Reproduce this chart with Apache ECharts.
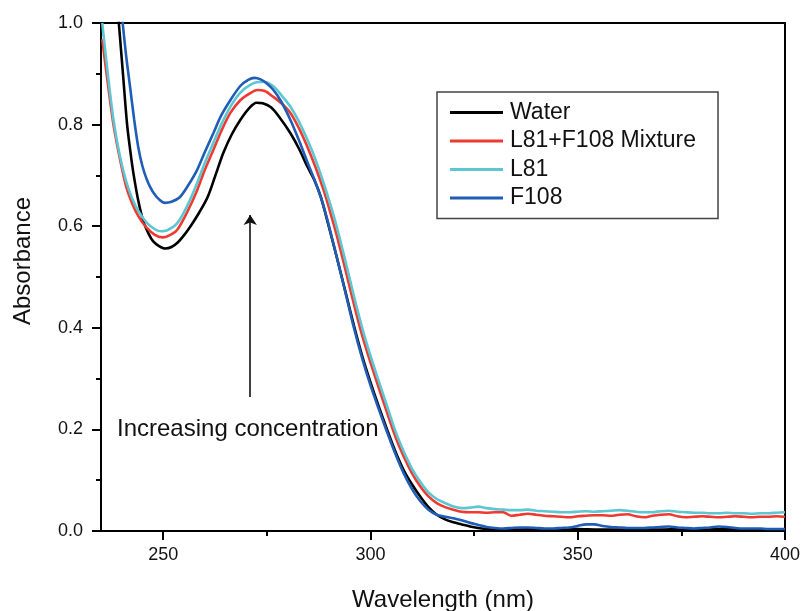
<!DOCTYPE html>
<html><head><meta charset="utf-8">
<script src="https://cdn.jsdelivr.net/npm/echarts@6/dist/echarts.min.js"></script>
<style>html,body{margin:0;padding:0;background:#fff}#c{width:802px;height:611px}</style>
</head><body><div id="c"></div>
<script>
const seriesNames = ['Water', 'L81+F108 Mixture', 'L81', 'F108'];
const xTicks = [250, 300, 350, 400];
const xMinorTicks = [275, 325, 375];
const waterData = [[239.2,1.01],[240.3,0.9],[241.3,0.8],[242.2,0.74],[242.9,0.7],[244,0.65],[245.2,0.61],[246.5,0.585],[247.6,0.57],[249,0.561],[250.5,0.556],[252,0.559],[253.5,0.568],[255,0.582],[256.6,0.6],[258.7,0.627],[260.7,0.657],[262.6,0.7],[264.5,0.744],[266.5,0.78],[268.6,0.809],[270.7,0.832],[272.5,0.843],[274,0.842],[276,0.834],[278,0.815],[280.7,0.783],[282.8,0.752],[284.8,0.717],[286.5,0.69],[288,0.658],[290,0.598],[292,0.535],[294,0.47],[296,0.405],[298,0.345],[300,0.293],[302,0.245],[304,0.2],[306,0.157],[308,0.12],[310,0.092],[312,0.068],[314,0.047],[316,0.032],[318,0.023],[320,0.017],[322,0.013],[324,0.009],[326,0.006],[328,0.004],[330,0.004],[335,0.003],[340,0.004],[345,0.003],[350,0.004],[355,0.003],[360,0.003],[365,0.004],[370,0.003],[375,0.004],[380,0.003],[385,0.004],[390,0.003],[395,0.003],[400,0.003]];
const mixtureData = [[235.3,0.968],[236.5,0.89],[238,0.8],[239.5,0.735],[241,0.68],[242.5,0.645],[244,0.62],[246,0.597],[248,0.583],[249.8,0.578],[251.5,0.582],[253.4,0.593],[255.8,0.628],[258.2,0.671],[260,0.71],[262.1,0.75],[264,0.787],[266.2,0.823],[268.6,0.848],[271,0.862],[272.7,0.868],[274.5,0.866],[276.5,0.855],[278.5,0.842],[280.7,0.823],[282.8,0.792],[284.8,0.756],[286.8,0.715],[288.7,0.671],[290.5,0.622],[292,0.578],[294,0.513],[296,0.447],[298,0.385],[300,0.332],[302,0.282],[304,0.233],[306,0.186],[308,0.147],[310,0.114],[312,0.088],[314,0.068],[316,0.055],[318,0.047],[320,0.042],[322,0.038],[324,0.037],[326,0.037],[328,0.036],[330,0.037],[332,0.037],[334,0.03],[336,0.032],[338,0.034],[340,0.032],[342,0.03],[344,0.029],[346,0.028],[348,0.027],[350,0.029],[352,0.03],[354,0.031],[356,0.031],[358,0.03],[360,0.032],[362,0.033],[364,0.029],[366,0.027],[368,0.03],[370,0.032],[372,0.033],[374,0.029],[376,0.027],[378,0.028],[380,0.029],[382,0.028],[384,0.027],[386,0.028],[388,0.029],[390,0.028],[392,0.027],[394,0.028],[396,0.028],[398,0.029],[400,0.028]];
const l81Data = [[235.3,1.0],[236.5,0.91],[238,0.81],[239.5,0.74],[241,0.69],[242.5,0.655],[244,0.63],[246,0.607],[248,0.594],[249.5,0.59],[251,0.592],[253.4,0.606],[255.8,0.64],[258.2,0.685],[260,0.724],[262.1,0.764],[264,0.8],[266.2,0.835],[268.5,0.862],[271,0.878],[273,0.884],[274.5,0.884],[276.5,0.876],[278.5,0.858],[280.7,0.835],[282.8,0.805],[284.8,0.77],[286.8,0.73],[288.7,0.685],[290.5,0.638],[292,0.595],[294,0.53],[296,0.463],[298,0.4],[300,0.345],[302,0.295],[304,0.246],[306,0.197],[308,0.157],[310,0.123],[312,0.097],[314,0.076],[316,0.063],[318,0.055],[320,0.048],[322,0.045],[324,0.046],[326,0.048],[328,0.045],[330,0.043],[332,0.042],[334,0.041],[336,0.041],[338,0.042],[340,0.04],[342,0.039],[344,0.038],[346,0.037],[348,0.037],[350,0.038],[352,0.039],[354,0.038],[356,0.039],[358,0.04],[360,0.041],[362,0.04],[364,0.038],[366,0.037],[368,0.037],[370,0.039],[372,0.04],[374,0.038],[376,0.037],[378,0.036],[380,0.036],[382,0.035],[384,0.035],[386,0.036],[388,0.035],[390,0.035],[392,0.034],[394,0.035],[396,0.035],[398,0.036],[400,0.037]];
const f108Data = [[240.1,1.01],[241,0.94],[242,0.875],[243,0.81],[244,0.755],[245,0.718],[246,0.693],[247,0.675],[248,0.662],[249,0.653],[250.4,0.646],[252,0.648],[254,0.657],[256,0.68],[258.2,0.711],[260,0.745],[262.1,0.783],[264,0.818],[266.2,0.848],[268.6,0.876],[270.5,0.888],[272,0.892],[273.5,0.889],[275,0.881],[276.6,0.868],[278.5,0.845],[280.7,0.809],[282.8,0.768],[284.8,0.726],[286.8,0.685],[288.5,0.645],[290,0.6],[292,0.535],[294,0.468],[296,0.4],[298,0.34],[300,0.287],[302,0.24],[304,0.195],[306,0.152],[308,0.114],[310,0.083],[312,0.059],[314,0.042],[316,0.032],[318,0.028],[320,0.025],[322,0.021],[324,0.016],[326,0.012],[328,0.008],[330,0.006],[332,0.005],[334,0.006],[336,0.007],[338,0.007],[340,0.006],[342,0.005],[344,0.005],[346,0.006],[348,0.007],[350,0.01],[352,0.013],[354,0.013],[356,0.01],[358,0.008],[360,0.007],[362,0.006],[364,0.006],[366,0.006],[368,0.007],[370,0.008],[372,0.009],[374,0.007],[376,0.006],[378,0.005],[380,0.006],[382,0.007],[384,0.009],[386,0.008],[388,0.006],[390,0.005],[392,0.005],[394,0.005],[396,0.004],[398,0.004],[400,0.004]];
const arrowX = 271;
const arrowFrom = 0.264;
const arrowTo = 0.622;
const annotationText = 'Increasing concentration';
const annotationPos = [270.4, 0.2];

const FONT = 'Arial, "Liberation Sans", sans-serif';
const colors = ['#000000', '#EE3A30', '#5CC6D2', '#1F5DB6'];
const datasets = [waterData, mixtureData, l81Data, f108Data];

const chart = echarts.init(document.getElementById('c'), null, {renderer: 'canvas'});
const series = seriesNames.map((n, i) => ({
  name: n, type: 'line', data: datasets[i], showSymbol: false, symbol: 'none',
  smooth: 0.3, clip: true, xAxisIndex: 0, yAxisIndex: 0,
  lineStyle: {color: colors[i], width: 2.6}, itemStyle: {color: colors[i]},
  z: 2 + i,
  markLine: i === 0 ? {
    silent: true, symbol: ['none', 'arrow'], symbolSize: 10,
    lineStyle: {color: '#111', width: 1.6, type: 'solid'},
    itemStyle: {color: '#111'},
    label: {show: false},
    data: [[{coord: [arrowX, arrowFrom]}, {coord: [arrowX, arrowTo]}]]
  } : undefined
}));

chart.setOption({
  animation: false,
  backgroundColor: '#fff',
  textStyle: {fontFamily: FONT},
  grid: {left: 101, right: 17, top: 23, bottom: 80, outerBoundsMode: 'none', containLabel: false,
         show: true, borderColor: '#000', borderWidth: 2, backgroundColor: 'transparent'},
  legend: {
    orient: 'vertical', left: 437, top: 92,
    icon: 'rect', itemWidth: 53, itemHeight: 3, itemGap: 5.5,
    padding: [9, 22, 9, 13],
    borderColor: '#444', borderWidth: 1.5,
    textStyle: {fontFamily: FONT, fontSize: 23, color: '#111', lineHeight: 23, padding: [0, 0, 0, 2]},
    data: seriesNames
  },
  xAxis: [{
    type: 'value', min: 235, max: 400, position: 'bottom',
    name: 'Wavelength (nm)', nameLocation: 'middle', nameGap: 57,
    nameTextStyle: {fontFamily: FONT, fontSize: 24, color: '#111'},
    axisLine: {show: true, lineStyle: {color: '#000', width: 2}},
    axisTick: {show: true, inside: false, length: 9, lineStyle: {color: '#000', width: 2}, customValues: xTicks},
    axisLabel: {fontFamily: FONT, fontSize: 18, color: '#111', margin: 15, customValues: xTicks},
    splitLine: {show: false}
  }, {
    type: 'value', min: 235, max: 400, position: 'bottom',
    axisLine: {show: false},
    axisTick: {show: true, length: 5, lineStyle: {color: '#000', width: 2}, customValues: xMinorTicks},
    axisLabel: {show: false},
    splitLine: {show: false}
  }],
  yAxis: {
    type: 'value', min: 0, max: 1, interval: 0.2,
    name: 'Absorbance', nameLocation: 'middle', nameGap: 66, nameRotate: 90,
    nameTextStyle: {fontFamily: FONT, fontSize: 24, color: '#111', padding: [0, 0, 0, 32]},
    axisLine: {show: true, lineStyle: {color: '#000', width: 2}},
    axisTick: {show: true, length: 9, lineStyle: {color: '#000', width: 2}},
    minorTick: {show: true, splitNumber: 2, length: 5, lineStyle: {color: '#000', width: 2}},
    axisLabel: {fontFamily: FONT, fontSize: 18, color: '#111', margin: 18, formatter: v => v.toFixed(1)},
    splitLine: {show: false}
  },
  series: series
});

const p = chart.convertToPixel({xAxisIndex: 0, yAxisIndex: 0}, annotationPos);
chart.setOption({
  graphic: [{
    type: 'text', x: p[0], y: p[1], silent: true,
    style: {text: annotationText, font: '24px ' + FONT, fill: '#111', align: 'center', verticalAlign: 'middle'}
  }]
});
</script></body></html>
